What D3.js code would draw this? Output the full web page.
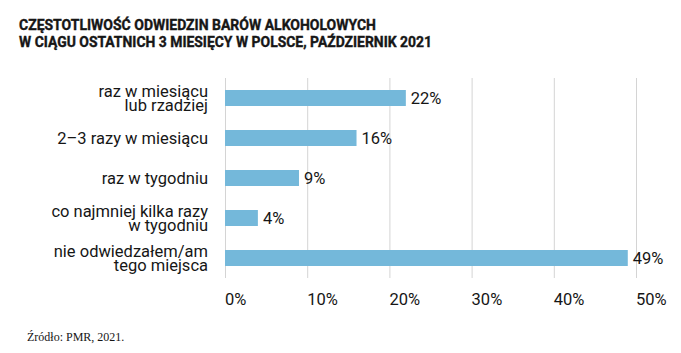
<!DOCTYPE html>
<html>
<head>
<meta charset="utf-8">
<script src="https://cdn.jsdelivr.net/npm/d3@7"></script>
<style>
  body { margin: 0; background: #fff; }
  text { fill: #161616; }
</style>
</head>
<body>
<div id="root"></div>
<script>
// chart data
const titleLines = [
  "CZĘSTOTLIWOŚĆ ODWIEDZIN BARÓW ALKOHOLOWYCH",
  "W CIĄGU OSTATNICH 3 MIESIĘCY W POLSCE, PAŹDZIERNIK 2021"
];
const categories = [
  ["raz w miesiącu", "lub rzadziej"],
  ["2–3 razy w miesiącu"],
  ["raz w tygodniu"],
  ["co najmniej kilka razy", "w tygodniu"],
  ["nie odwiedzałem/am", "tego miejsca"]
];
const values = [22, 16, 9, 4, 49];
const ticks = [0, 10, 20, 30, 40, 50];
const source = "Źródło: PMR, 2021.";

const width = 681, height = 353;
const x0 = 225, x1 = 636;   // 0% .. 50%
const plotTop = 78, plotBottom = 278;

const svg = d3.select("#root").append("svg")
  .attr("width", width)
  .attr("height", height);

// title, squeezed to the width of the original condensed face
const titleWidths = [357, 413];
svg.selectAll(".title")
  .data(titleLines)
  .join("text")
  .attr("class", "title")
  .attr("x", 19)
  .attr("y", (d, i) => 30 + i * 16.5)
  .attr("textLength", (d, i) => titleWidths[i])
  .attr("lengthAdjust", "spacingAndGlyphs")
  .attr("stroke", "#161616")
  .attr("stroke-width", 0.4)
  .style("font-family", "Roboto, sans-serif")
  .style("font-weight", "bold")
  .style("font-size", "15.5px")
  .text(d => d);

const x = d3.scaleLinear().domain([0, 50]).range([x0, x1]);
const y = d3.scaleBand()
  .domain(d3.range(values.length))
  .range([plotTop, plotBottom])
  .paddingInner(0.6)
  .paddingOuter(0.3);

// grid lines (0% line included)
svg.selectAll(".grid")
  .data(ticks)
  .join("line")
  .attr("class", "grid")
  .attr("x1", d => x(d) + 0.5)
  .attr("x2", d => x(d) + 0.5)
  .attr("y1", plotTop)
  .attr("y2", plotBottom)
  .attr("stroke", "#d4d4d4")
  .attr("stroke-width", 1);

// tick labels start at the grid line
svg.selectAll(".tick")
  .data(ticks)
  .join("text")
  .attr("class", "tick")
  .attr("x", d => x(d))
  .attr("y", 305)
  .style("font-family", "Roboto, sans-serif")
  .style("font-size", "16.5px")
  .text(d => d + "%");

// bars
svg.selectAll(".bar")
  .data(values)
  .join("rect")
  .attr("class", "bar")
  .attr("x", x(0))
  .attr("y", (d, i) => y(i))
  .attr("width", d => x(d) - x(0))
  .attr("height", y.bandwidth())
  .attr("fill", "#74b8da");

// value labels
svg.selectAll(".val")
  .data(values)
  .join("text")
  .attr("class", "val")
  .attr("x", d => x(d) + 5)
  .attr("y", (d, i) => y(i) + y.bandwidth() / 2 + 6)
  .style("font-family", "Roboto, sans-serif")
  .style("font-size", "16.5px")
  .text(d => d + "%");

// category labels, right aligned, multi-line
const lab = svg.selectAll(".cat")
  .data(categories)
  .join("text")
  .attr("class", "cat")
  .attr("text-anchor", "end")
  .style("font-family", "Roboto, sans-serif")
  .style("font-size", "16.5px");

lab.each(function (lines, i) {
  const cy = y(i) + y.bandwidth() / 2 + 6;
  d3.select(this).selectAll("tspan")
    .data(lines)
    .join("tspan")
    .attr("x", 208)
    .attr("y", (d, j) => cy + (j - (lines.length - 1) / 2) * 14)
    .text(d => d);
});

// source
svg.append("text")
  .attr("x", 27)
  .attr("y", 341)
  .style("font-family", "'Liberation Serif', serif")
  .style("font-size", "12px")
  .text(source);
</script>
</body>
</html>
